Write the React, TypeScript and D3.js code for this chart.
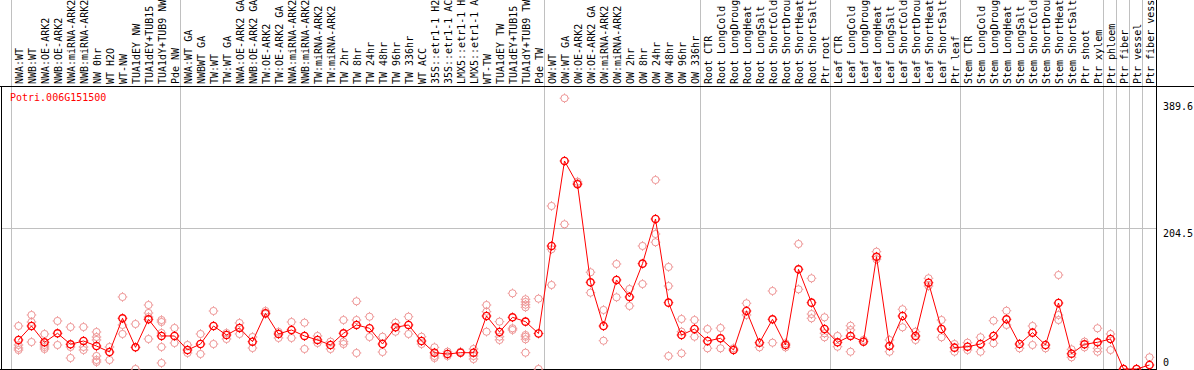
import * as d3 from "d3";

const WIDTH = 1194;
const HEIGHT = 370;

const FONT = {
  family: "'DejaVu Sans Mono', monospace",
  size: 10,
};

const PLOT = {
  left: 11,
  colWidth: 13,
  headerBottom: 86,
  bottom: 369,
  right: 1156,
  markerR: 3.6,
};

const COLORS = {
  mean: "#ff0000",
  rep: "#ee9696",
  grid: "#c0c0c0",
  frame: "#000",
};

const GENE = "Potri.006G151500";

const Y_MAX = 389.6;
const Y_TICKS = [389.6, 204.5, 0];
const GRID_VALUES = [204.5];

// column index where each separator line goes
const SEPARATORS = [0, 13, 41, 53, 63, 73, 84, 85, 86, 87];

const SAMPLES = [
  "NWA:WT", "NWB:WT", "NWA:OE-ARK2", "NWB:OE-ARK2", "NWA:miRNA-ARK2", "NWB:miRNA-ARK2",
  "NW 0hr", "WT H2O", "WT-NW", "TUA1dEY NW", "TUA1dEY+TUB15 NW", "TUA1dY+TUB9 NW", "Pde NW",
  "NWA:WT GA", "NWBWT GA", "TW:WT", "TW:WT GA", "NWA:OE-ARK2 GA", "NWB:OE-ARK2 GA",
  "TW:OE-ARK2", "TW:OE-ARK2 GA", "NWA:miRNA-ARK2 GA", "NWB:miRNA-ARK2 GA", "TW:miRNA-ARK2",
  "TW:miRNA-ARK2", "TW 2hr", "TW 8hr", "TW 24hr", "TW 48hr", "TW 96hr", "TW 336hr", "WT ACC",
  "35S::etr1-1 H2O", "35S::etr1-1 ACC", "LMX5::etr1-1 H2O", "LMX5::etr1-1 ACC", "WT-TW",
  "TUA1dEY TW", "TUA1dEY+TUB15 TW", "TUA1dY+TUB9 TW", "Pde TW",
  "OW:WT", "OW:WT GA", "OW:OE-ARK2", "OW:OE-ARK2 GA", "OW:miRNA-ARK2", "OW:miRNA-ARK2",
  "OW 2hr", "OW 8hr", "OW 24hr", "OW 48hr", "OW 96hr", "OW 336hr",
  "Root CTR", "Root LongCold", "Root LongDrought", "Root LongHeat", "Root LongSalt",
  "Root ShortCold", "Root ShortDrought", "Root ShortHeat", "Root ShortSalt", "Ptr root",
  "Leaf CTR", "Leaf LongCold", "Leaf LongDrought", "Leaf LongHeat", "Leaf LongSalt",
  "Leaf ShortCold", "Leaf ShortDrought", "Leaf ShortHeat", "Leaf ShortSalt", "Ptr leaf",
  "Stem CTR", "Stem LongCold", "Stem LongDrought", "Stem LongHeat", "Stem LongSalt",
  "Stem ShortCold", "Stem ShortDrought", "Stem ShortHeat", "Stem ShortSalt", "Ptr shoot",
  "Ptr xylem", "Ptr phloem", "Ptr fiber", "Ptr vessel", "Ptr fiber vessel",
];

const MEANS = [
  42.2, 62.5, 38.8, 51.9, 35.9, 40.7, 33.4, 24.7, 73.7, 31.5, 72.2, 48.0, 48.0,
  27.6, 36.3, 62.5, 49.4, 59.6, 39.7, 81.0, 50.9, 56.7, 48.0, 42.2, 34.9, 51.9,
  64.0, 59.2, 36.3, 60.6, 64.0, 40.7, 23.7, 21.8, 23.7, 23.7, 77.0, 53.8, 75.1,
  68.8, 51.6,
  178.8, 302.3, 268.5, 126.0, 62.5, 129.4, 104.7, 153.1, 218.0, 96.4, 49.4, 58.1,
  40.7, 44.6, 27.6, 84.3, 38.2, 72.2, 34.9, 144.9, 96.4, 58.1,
  38.8, 48.0, 39.7, 163.2, 33.4, 77.0, 48.0, 125.4, 58.1, 31.0,
  32.4, 36.3, 48.0, 72.2, 36.3, 52.8, 34.9, 95.9, 22.2, 35.9, 38.8,
  43.6, 0, 0, 5.8,
];

const REPLICATES = [
  [62.5, 34.9, 30.5, 27.6], [78.5, 68.3, 39.2], [50.9, 34.9, 32.0, 29.1], [69.8, 34.9],
  [61.0, 32.0, 16.0], [61.0, 32.0, 27.6], [53.8, 46.5, 42.2, 18.9, 13.1, 10.2], [32.0, 13.1],
  [104.7, 64.0, 50.9], [65.4, 0], [93.0, 81.4, 75.6, 43.6], [71.2, 68.3, 52.3, 32.0, 8.7],
  [59.6, 37.8],
  [34.9, 23.3], [50.9, 21.8], [84.3, 36.3], [52.3, 43.6], [66.9, 50.9], [46.5, 30.5],
  [84.3, 79.9], [53.8, 45.1], [68.3, 45.1], [67.3, 29.1], [48.0, 37.8], [39.7, 29.1],
  [71.2, 39.7, 36.3], [98.4, 71.2, 23.3], [76.0, 46.5], [46.9, 24.7], [67.3, 54.2],
  [76.0, 50.9], [46.9, 36.3], [31.5, 18.9, 16.0], [25.1, 18.9], [25.1], [29.1, 18.9, 14.5],
  [93.0, 83.3, 54.2], [68.8, 46.9, 42.2], [110.0, 59.2, 56.7],
  [101.3, 97.4, 93.5, 89.7, 49.4, 46.9, 43.2, 23.7], [102.2, 0],
  [236.9, 174.0, 122.1], [393.5, 210.3], [272.2, 269.9], [140.6, 110.9], [85.8, 41.1],
  [152.6, 104.2], [116.3, 91.6], [178.8, 123.5], [274.7, 196.2, 184.2],
  [148.3, 120.6, 18.9], [72.7, 54.2, 22.8], [71.2, 46.9],
  [58.1, 30.1], [59.6, 30.1], [30.1], [95.5, 78.5], [31.5], [113.4, 38.2], [37.4, 31.5],
  [181.7, 115.8], [131.8, 79.9, 73.7], [75.1, 51.9, 46.1],
  [48.0, 32.4], [62.9, 56.7, 25.1], [42.2], [170.5, 159.4], [42.2, 25.1], [86.8, 60.6],
  [54.2, 42.2], [131.8, 120.6], [71.2, 46.1], [36.3, 25.1],
  [38.2, 27.6], [46.1, 25.1], [70.2, 37.4], [84.7, 64.0], [30.1], [62.5, 34.9], [30.1],
  [136.6, 78.5, 71.2], [28.6, 17.0], [39.7, 31.5], [59.2, 30.1, 25.1],
  [50.9, 27.6], [0], [0], [17.0],
];

const x = d3
  .scaleLinear()
  .domain([0, SAMPLES.length])
  .range([PLOT.left, PLOT.left + SAMPLES.length * PLOT.colWidth]);

const colCenter = (i: number) => x(i) + PLOT.colWidth / 2 + 1;

const y = d3.scaleLinear().domain([0, Y_MAX]).range([PLOT.bottom, 100.9]);

function Marker({
  cx,
  cy,
  color,
  width,
}: {
  cx: number;
  cy: number;
  color: string;
  width: number;
}) {
  const r = PLOT.markerR;
  const t = 1.2;
  return (
    <g stroke={color} strokeWidth={width} fill="none">
      <circle cx={cx} cy={cy} r={r} />
      <line x1={cx} y1={cy - r} x2={cx} y2={cy - r - t} strokeWidth={1} />
      <line x1={cx} y1={cy + r} x2={cx} y2={cy + r + t} strokeWidth={1} />
      <line x1={cx - r} y1={cy} x2={cx - r - t} y2={cy} strokeWidth={1} />
      <line x1={cx + r} y1={cy} x2={cx + r + t} y2={cy} strokeWidth={1} />
    </g>
  );
}

function Header() {
  return (
    <g className="header">
      {SAMPLES.map((name, i) => {
        const tx = x(i) + 12;
        const ty = PLOT.headerBottom - 2;
        return (
          <text
            key={i}
            x={tx}
            y={ty}
            transform={`rotate(-90 ${tx} ${ty})`}
            fontFamily={FONT.family}
            fontSize={FONT.size}
            fill="#000"
          >
            {name}
          </text>
        );
      })}
    </g>
  );
}

function AxisRight() {
  return (
    <g className="y-axis">
      {Y_TICKS.map((t) => (
        <text
          key={t}
          x={PLOT.right + 7}
          y={t === 0 ? PLOT.bottom - 3 : y(t) + 2}
          dominantBaseline={t === 0 ? "auto" : "hanging"}
          fontFamily={FONT.family}
          fontSize={FONT.size}
          fill="#000"
        >
          {t === 0 ? "0" : t.toFixed(1)}
        </text>
      ))}
    </g>
  );
}

export default function App() {
  const line = d3
    .line<number>()
    .x((_, i) => colCenter(i))
    .y((d) => y(d));

  return (
    <svg
      width={WIDTH}
      height={HEIGHT}
      style={{ position: "absolute", left: 0, top: 0, background: "#fff" }}
      xmlns="http://www.w3.org/2000/svg"
    >
      <rect x={0} y={0} width={WIDTH} height={HEIGHT} fill="#fff" />

      {GRID_VALUES.map((g) => (
        <line
          key={g}
          x1={1}
          x2={PLOT.right}
          y1={Math.round(y(g)) + 0.5}
          y2={Math.round(y(g)) + 0.5}
          stroke={COLORS.grid}
        />
      ))}
      {SEPARATORS.map((s) => (
        <line
          key={s}
          x1={Math.round(x(s)) + 0.5}
          x2={Math.round(x(s)) + 0.5}
          y1={0}
          y2={PLOT.bottom}
          stroke={COLORS.grid}
        />
      ))}

      <Header />

      <line x1={0} x2={WIDTH} y1={PLOT.headerBottom + 0.5} y2={PLOT.headerBottom + 0.5} stroke={COLORS.frame} />
      <line x1={1.5} x2={1.5} y1={PLOT.headerBottom} y2={PLOT.bottom} stroke={COLORS.frame} />
      <line x1={PLOT.right + 0.5} x2={PLOT.right + 0.5} y1={0} y2={PLOT.bottom + 1} stroke={COLORS.frame} />
      <line x1={0} x2={PLOT.right + 1} y1={PLOT.bottom + 0.5} y2={PLOT.bottom + 0.5} stroke={COLORS.frame} />

      <text
        x={10}
        y={101}
        fontFamily={FONT.family}
        fontSize={FONT.size}
        fill={COLORS.mean}
      >
        {GENE}
      </text>

      <AxisRight />

      <g className="replicates">
        {REPLICATES.map((reps, i) =>
          reps.map((v, j) => (
            <Marker key={`${i}-${j}`} cx={colCenter(i)} cy={y(v)} color={COLORS.rep} width={1} />
          )),
        )}
      </g>

      <path d={line(MEANS) ?? undefined} fill="none" stroke={COLORS.mean} strokeWidth={1} />

      <g className="means">
        {MEANS.map((v, i) => (
          <Marker key={i} cx={colCenter(i)} cy={y(v)} color={COLORS.mean} width={1.4} />
        ))}
      </g>
    </svg>
  );
}
